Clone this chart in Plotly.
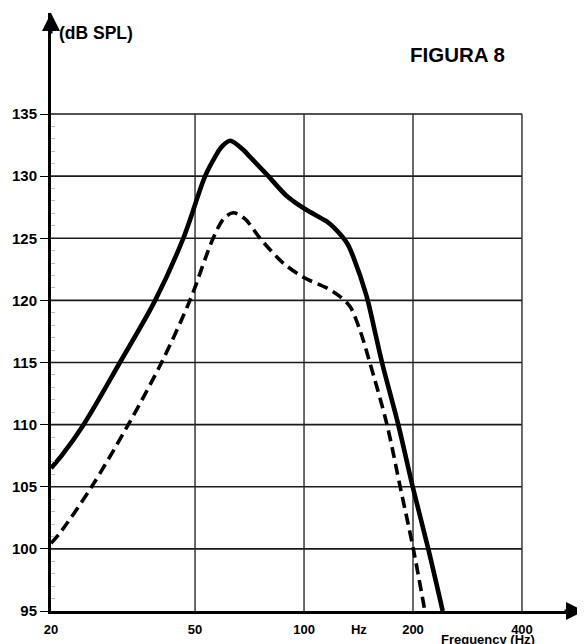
import plotly.graph_objects as go
import math

# ---- data ----
solid_freq = [20.0, 21.45, 24.6, 31.0, 38.8, 46.4, 53.3, 56.8, 59.2, 62.5, 68.0, 70.9, 79.7,
              89.6, 100.6, 115.5, 121.0, 131.5, 136.8, 149.0, 156.1, 164.2, 182.1, 199.6,
              220.4, 241.6]
solid_db = [106.5, 107.55, 110.0, 115.0, 120.0, 125.0, 130.0, 131.55, 132.35, 132.85, 132.1,
            131.55, 130.0, 128.4, 127.35, 126.35, 125.85, 124.6, 123.5, 120.3, 117.8, 115.0,
            110.0, 105.0, 100.0, 95.0]

dash_freq = [20.0, 21.2, 25.9, 32.7, 40.4, 48.4, 56.1, 60.1, 63.8, 68.7, 75.6, 87.6, 100.5,
             115.5, 125.7, 134.0, 142.7, 152.1, 169.5, 184.3, 200.4, 215.7]
dash_db = [100.45, 101.3, 105.0, 110.0, 115.0, 120.0, 125.0, 126.6, 127.05, 126.55, 125.0,
           123.0, 121.8, 121.0, 120.3, 119.5, 117.6, 114.95, 110.0, 105.0, 100.0, 95.0]

y_ticks = [95, 100, 105, 110, 115, 120, 125, 130, 135]
x_grid = [50, 100, 200, 400]
x_tickvals = [20, 50, 100, 141.7, 200, 400]
x_ticktext = ["20", "50", "100", "Hz", "200", "400"]

FONT = "Liberation Sans, Arial, sans-serif"

fig = go.Figure()

# horizontal grid lines (100..135) from 20 Hz to 400 Hz
gx, gy = [], []
for v in y_ticks[1:]:
    gx += [20, 400, None]
    gy += [v, v, None]
fig.add_trace(go.Scatter(x=gx, y=gy, mode="lines",
                         line=dict(color="#1a1a1a", width=1.7),
                         hoverinfo="skip", showlegend=False))
# vertical grid lines
vx, vy = [], []
for f in x_grid:
    vx += [f, f, None]
    vy += [95, 135, None]
fig.add_trace(go.Scatter(x=vx, y=vy, mode="lines",
                         line=dict(color="#2a2a2a", width=1.4),
                         hoverinfo="skip", showlegend=False))

# curves
fig.add_trace(go.Scatter(x=dash_freq, y=dash_db, mode="lines",
                         line=dict(color="black", width=3.6, dash="11px,6px",
                                   shape="spline", smoothing=0.9),
                         showlegend=False))
fig.add_trace(go.Scatter(x=solid_freq, y=solid_db, mode="lines",
                         line=dict(color="black", width=4.6,
                                   shape="spline", smoothing=0.9),
                         showlegend=False))

# the page body has an 8px margin: the figure is drawn 8px lower and further right
W, H = 577, 636
L, R, T, B = 43, 0, 5, 33
pw = W - L - R
ph = H - T - B
px_per_decade = 362.0
px_per_db = (611 - 114) / 40.0

x0 = math.log10(20)
x1 = x0 + pw / px_per_decade
y_top = 95 + ph / px_per_db

fig.update_layout(
    width=W, height=H,
    margin=dict(l=L, r=R, t=T, b=B, pad=0),
    paper_bgcolor="white", plot_bgcolor="white",
    font=dict(family=FONT, color="black"),
    xaxis=dict(type="log", range=[x0, x1], showgrid=False, zeroline=False,
               showline=True, linewidth=3, linecolor="black",
               tickmode="array", tickvals=x_tickvals, ticktext=x_ticktext,
               ticks="", tickfont=dict(size=13, family=FONT, weight="bold"),
               ticklabelstandoff=4),
    yaxis=dict(range=[95, y_top], showgrid=False, zeroline=False,
               showline=True, linewidth=3, linecolor="black",
               tickmode="array", tickvals=y_ticks,
               ticks="outside", ticklen=8, tickwidth=1, tickcolor="black",
               tickfont=dict(size=15, family=FONT, weight="bold"),
               minor=dict(ticks="inside", ticklen=4, tickwidth=1, tickcolor="#bbbbbb",
                          tickmode="array",
                          tickvals=[v for v in range(96, 135) if v % 5 != 0])),
    annotations=[
        dict(text="(dB SPL)", xref="paper", yref="paper", x=(57 - 51) / pw,
             y=(611 - 33) / ph, xanchor="left", yanchor="middle", showarrow=False,
             font=dict(size=17.5, family=FONT, weight="bold")),
        dict(text="FIGURA 8", xref="paper", yref="paper", x=(457 - 51) / pw,
             y=(611 - 55) / ph, xanchor="center", yanchor="middle", showarrow=False,
             font=dict(size=20.5, family=FONT, weight="bold")),
        dict(text="Frequency (Hz)", xref="paper", yref="paper", x=(488 - 51) / pw,
             y=(611 - 630) / ph, xanchor="center", yanchor="top", showarrow=False,
             font=dict(size=13, family=FONT, weight="bold")),
        # axis arrowheads
        dict(text="", xref="paper", yref="paper", x=0, y=1, ax=0, ay=22,
             showarrow=True, arrowhead=2, arrowsize=1.2, arrowwidth=3, arrowcolor="black"),
        dict(text="", xref="paper", yref="paper", x=1, y=0, ax=-22, ay=0,
             showarrow=True, arrowhead=2, arrowsize=1.2, arrowwidth=3, arrowcolor="black"),
    ],
)

fig.write_html("out.html")
